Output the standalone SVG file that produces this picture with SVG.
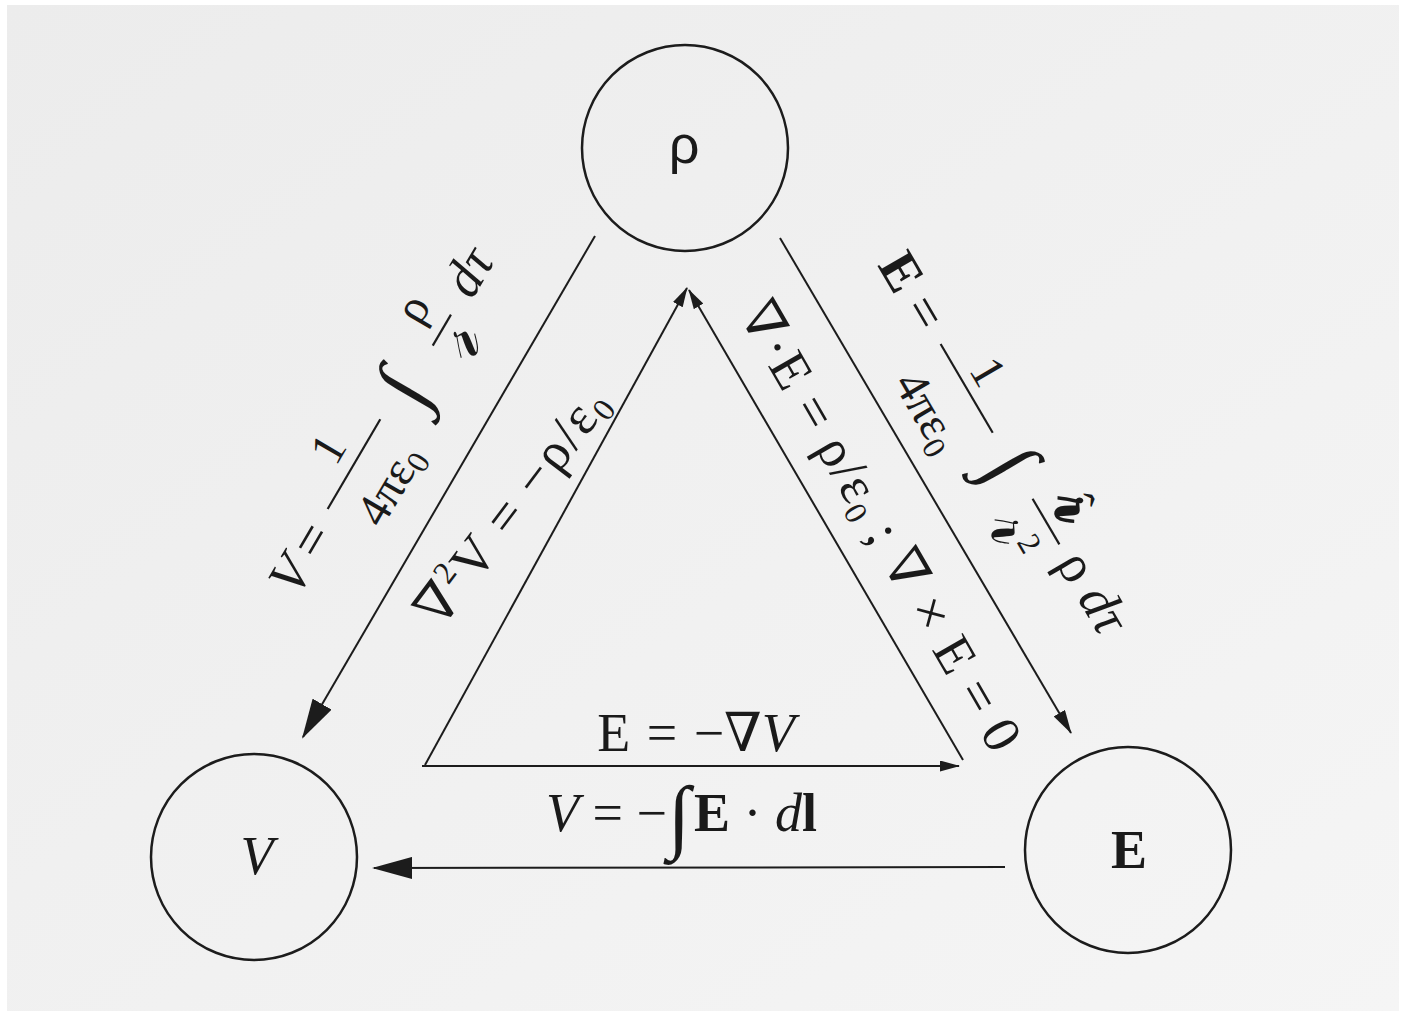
<svg xmlns="http://www.w3.org/2000/svg" width="1410" height="1013" viewBox="0 0 1410 1013">
<defs>
<linearGradient id="paper" x1="0" y1="0" x2="1" y2="1">
<stop offset="0" stop-color="#ececec"/>
<stop offset="1" stop-color="#f5f5f5"/>
</linearGradient>
<marker id="big" markerUnits="userSpaceOnUse" viewBox="0 0 40 22" refX="38" refY="11" markerWidth="40" markerHeight="22" orient="auto">
<path d="M0,0 L40,11 L0,22 Z" fill="#1c1c1c"/>
</marker>
<marker id="mid" markerUnits="userSpaceOnUse" viewBox="0 0 24 13" refX="23" refY="6.5" markerWidth="24" markerHeight="13" orient="auto">
<path d="M0,0 L24,6.5 L0,13 Z" fill="#1c1c1c"/>
</marker>
<marker id="small" markerUnits="userSpaceOnUse" viewBox="0 0 20 11" refX="19" refY="5.5" markerWidth="20" markerHeight="11" orient="auto">
<path d="M0,0 L20,5.5 L0,11 Z" fill="#1c1c1c"/>
</marker>
</defs>
<style>
.t{font-family:"Liberation Serif","DejaVu Serif",serif;font-size:54px;fill:#1a1a1a}
.f{font-size:48px}
.s{font-size:32px}
.sr{font-size:72px}
.it{font-style:italic}
.b{font-weight:bold}
.int{font-family:"Liberation Serif","DejaVu Serif",serif;font-size:82px;fill:#1a1a1a}
.ln{stroke:#1c1c1c;stroke-width:2;fill:none}
.node{stroke:#1c1c1c;stroke-width:2.5;fill:none}
.bar{stroke:#1c1c1c;stroke-width:2.2}
</style>
<rect x="0" y="0" width="1410" height="1013" fill="#ffffff"/>
<rect x="7" y="5" width="1392" height="1006" fill="url(#paper)"/>

<g id="node-rho">
<circle class="node" cx="685" cy="148" r="103"/>
<text x="684" y="163" text-anchor="middle" style="font-family:'Liberation Sans','DejaVu Sans',sans-serif;font-size:54px;fill:#1a1a1a">ρ</text>
</g>
<g id="node-V">
<circle class="node" cx="254" cy="857" r="103"/>
<text class="t it" x="257" y="874" text-anchor="middle">V</text>
</g>
<g id="node-E">
<circle class="node" cx="1128" cy="850" r="103"/>
<text class="t b" x="1129" y="868" text-anchor="middle">E</text>
</g>

<g id="connectors">
<path class="ln" d="M595,236 L303,737" marker-end="url(#big)"/>
<path class="ln" d="M780,238 L1071,733" marker-end="url(#mid)"/>
<path class="ln" d="M425,765 L687,288" marker-end="url(#small)"/>
<path class="ln" d="M963,760 L689,290" marker-end="url(#small)"/>
<path class="ln" d="M422,766 L959,766" marker-end="url(#small)"/>
<path class="ln" d="M1005,867 L374,868" marker-end="url(#big)"/>
</g>

<g id="label-left-outer" transform="translate(314.7,568.6) rotate(-59.6)">
<text class="t it" x="-18" y="0" text-anchor="middle">V</text>
<text class="t" x="23" y="0" text-anchor="middle">=</text>
<line class="bar" x1="58" y1="-19" x2="162" y2="-19"/>
<text class="t f" x="110" y="-33" text-anchor="middle">1</text>
<text class="t f" x="110" y="38" text-anchor="middle">4πε<tspan class="s" dy="8">0</tspan></text>
<text class="int" x="200" y="11" text-anchor="middle">∫</text>
<text class="t f" x="274" y="-32" text-anchor="middle">ρ</text>
<line class="bar" x1="252" y1="-11" x2="288" y2="-11"/>
<text class="t sr it" x="268" y="30" text-anchor="middle">𝓇</text>
<text class="t it" x="334" y="0" text-anchor="middle">dτ</text>
</g>

<g id="label-right-outer" transform="translate(901.7,271.7) rotate(59.6)">
<text class="t b" x="0" y="18" text-anchor="middle">E</text>
<text class="t" x="47" y="18" text-anchor="middle">=</text>
<line class="bar" x1="82" y1="3" x2="185" y2="3"/>
<text class="t f" x="130" y="-8" text-anchor="middle">1</text>
<text class="t f" x="134" y="64" text-anchor="middle">4πε<tspan class="s" dy="8">0</tspan></text>
<text class="int" x="221" y="30" text-anchor="middle">∫</text>
<text class="t sr b" x="289" y="-10" text-anchor="middle">𝓇</text>
<text class="t f" x="291" y="-18" text-anchor="middle">ˆ</text>
<line class="bar" x1="262" y1="2" x2="315" y2="2"/>
<text class="t sr" x="284" y="56" text-anchor="middle">𝓇<tspan class="s" dy="-18">2</tspan></text>
<text class="t" x="343" y="15" text-anchor="middle">ρ</text>
<text class="t it" x="393" y="14" text-anchor="middle">dτ</text>
</g>

<g id="label-left-inner" transform="translate(441,630) rotate(-53)">
<text class="t" x="0" y="0" textLength="282" lengthAdjust="spacing">∇<tspan class="s" dy="-21">2</tspan><tspan dy="21">V = −ρ/ε</tspan><tspan class="s" dy="8">0</tspan></text>
</g>

<g id="label-right-inner" transform="translate(738,314.6) rotate(60)">
<text class="t" x="0" y="0" textLength="509" lengthAdjust="spacing">∇·E = ρ/ε<tspan class="s" dy="8">0</tspan><tspan dy="-8"> ; ∇ × E = 0</tspan></text>
</g>

<g id="label-bottom-inner">
<text class="t" x="696" y="751" text-anchor="middle" word-spacing="3">E = −∇<tspan class="it">V</tspan></text>
</g>

<g id="label-bottom-outer">
<text class="t" x="667" y="831" text-anchor="end"><tspan class="it">V</tspan> = −</text>
<text class="int" x="679" y="843" text-anchor="middle">∫</text>
<text class="t" x="694" y="831"><tspan class="b">E</tspan> · <tspan class="it">d</tspan><tspan class="b">l</tspan></text>
</g>
</svg>
